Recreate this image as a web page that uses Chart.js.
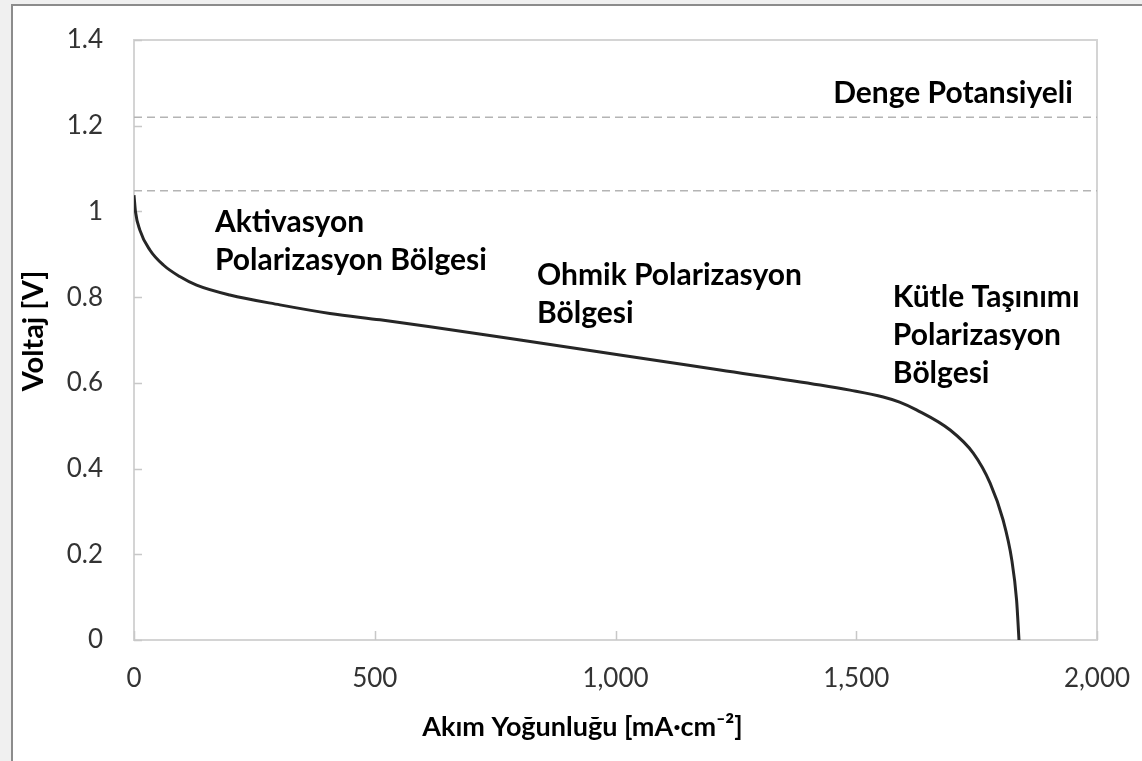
<!DOCTYPE html>
<html>
<head>
<meta charset="utf-8">
<script src="https://cdn.jsdelivr.net/npm/chart.js@4"></script>
<style>
  html, body { margin: 0; padding: 0; background: #f0f0f0; overflow: hidden; }
  #frame {
    position: absolute; left: 11px; top: 4px; width: 1140px; height: 770px;
    background: #fff; border-top: 2px solid #8c8c8c; border-left: 2px solid #8c8c8c;
  }
  #polChart { position: absolute; left: 0; top: 0; }
</style>
</head>
<body>
<div id="frame"></div>
<canvas id="polChart" width="1142" height="761"></canvas>
<script>
// polarization curve
const currentDensity = [0, 3, 12, 33, 61, 95, 130, 199, 303, 407, 511, 615, 802, 1009, 1217, 1425, 1487, 1556, 1590, 1625, 1695, 1743, 1778, 1805, 1823, 1833, 1838];
const voltage = [1.038, 1.0, 0.957, 0.91, 0.875, 0.848, 0.828, 0.805, 0.782, 0.762, 0.747, 0.731, 0.7, 0.665, 0.63, 0.595, 0.583, 0.567, 0.555, 0.537, 0.49, 0.436, 0.366, 0.28, 0.187, 0.093, 0];

// dashed reference levels
const equilibriumPotential = 1.22;
const openCircuitVoltage = 1.048;

const xTickLabels = ["0", "500", "1,000", "1,500", "2,000"];
const yTickLabels = ["0", "0.2", "0.4", "0.6", "0.8", "1", "1.2", "1.4"];

const xTitle = "Akım Yoğunluğu [mA·cm⁻²]";
const yTitle = "Voltaj [V]";

const FONT = "Lato";

const curve = currentDensity.map((x, i) => ({ x: x, y: voltage[i] }));

function flatLine(v) {
  return [{ x: 0, y: v }, { x: 2000, y: v }];
}

// plot box + inward tick marks
const frameAndTicks = {
  id: "frameAndTicks",
  beforeDatasetsDraw(chart) {
    const { ctx, chartArea: a, scales } = chart;
    ctx.save();
    ctx.strokeStyle = "#d4d4d4";
    ctx.lineWidth = 2;
    ctx.strokeRect(a.left, a.top, a.right - a.left, a.bottom - a.top);
    ctx.strokeStyle = "#c8c8c8";
    ctx.lineWidth = 1.5;
    ctx.beginPath();
    scales.y.ticks.forEach((t) => {
      const py = Math.round(scales.y.getPixelForValue(t.value)) + 0.5;
      ctx.moveTo(a.left, py);
      ctx.lineTo(a.left + 8, py);
    });
    scales.x.ticks.forEach((t) => {
      const px = Math.round(scales.x.getPixelForValue(t.value)) + 0.5;
      ctx.moveTo(px, a.bottom);
      ctx.lineTo(px, a.bottom - 9);
    });
    ctx.stroke();
    ctx.restore();
  },
};

// region labels and axis titles
const labelsPlugin = {
  id: "labelsPlugin",
  afterDatasetsDraw(chart) {
    const { ctx, scales, chartArea: a } = chart;
    const labels = [
      { x: 1452, y: 1.252, lines: ["Denge Potansiyeli"] },
      { x: 168, y: 0.953, lines: ["Aktivasyon", "Polarizasyon Bölgesi"] },
      { x: 837, y: 0.828, lines: ["Ohmik Polarizasyon", "Bölgesi"] },
      { x: 1576, y: 0.778, lines: ["Kütle Taşınımı", "Polarizasyon", "Bölgesi"] },
    ];
    ctx.save();
    ctx.font = "bold 30px " + FONT;
    ctx.fillStyle = "#000";
    ctx.textAlign = "left";
    ctx.textBaseline = "alphabetic";
    labels.forEach((l) => {
      const px = scales.x.getPixelForValue(l.x);
      const py = scales.y.getPixelForValue(l.y);
      l.lines.forEach((s, i) => ctx.fillText(s, px, py + i * 38));
    });

    ctx.textAlign = "center";
    ctx.textBaseline = "middle";
    ctx.font = "bold 27px " + FONT;
    ctx.fillText(xTitle, (a.left + a.right) / 2 - 33, 727);
    ctx.translate(34, (a.top + a.bottom) / 2 - 9);
    ctx.rotate(-Math.PI / 2);
    ctx.font = "bold 29px " + FONT;
    ctx.fillText(yTitle, 0, 0);
    ctx.restore();
  },
};

new Chart(document.getElementById("polChart").getContext("2d"), {
  type: "scatter",
  data: {
    datasets: [
      {
        label: "Polarizasyon",
        data: curve,
        showLine: true,
        borderColor: "#262626",
        borderWidth: 3,
        pointRadius: 0,
        cubicInterpolationMode: "monotone",
      },
      {
        label: "Denge",
        data: flatLine(equilibriumPotential),
        showLine: true,
        borderColor: "#b4b4b4",
        borderWidth: 1.5,
        borderDash: [8, 5],
        pointRadius: 0,
      },
      {
        label: "OCV",
        data: flatLine(openCircuitVoltage),
        showLine: true,
        borderColor: "#b4b4b4",
        borderWidth: 1.5,
        borderDash: [8, 5],
        pointRadius: 0,
      },
    ],
  },
  options: {
    responsive: false,
    animation: false,
    layout: { padding: 0 },
    plugins: {
      legend: { display: false },
      tooltip: { enabled: false },
    },
    scales: {
      x: {
        type: "linear",
        min: 0,
        max: 2000,
        ticks: {
          stepSize: 500,
          padding: 23,
          color: "#333",
          font: { family: FONT, size: 26 },
          callback: (v, i) => xTickLabels[i],
        },
        grid: { display: false, drawTicks: false },
        border: { display: false },
        afterFit: (s) => {
          s.height = 121;
          s.paddingLeft = 0;
          s.paddingRight = 45;
        },
      },
      y: {
        type: "linear",
        min: 0,
        max: 1.4,
        ticks: {
          stepSize: 0.2,
          padding: 31,
          color: "#333",
          font: { family: FONT, size: 26 },
          callback: (v, i) => yTickLabels[i],
        },
        grid: { display: false, drawTicks: false },
        border: { display: false },
        afterFit: (s) => {
          s.width = 134;
          s.paddingTop = 40;
          s.paddingBottom = 0;
        },
      },
    },
  },
  plugins: [frameAndTicks, labelsPlugin],
});
</script>
</body>
</html>
